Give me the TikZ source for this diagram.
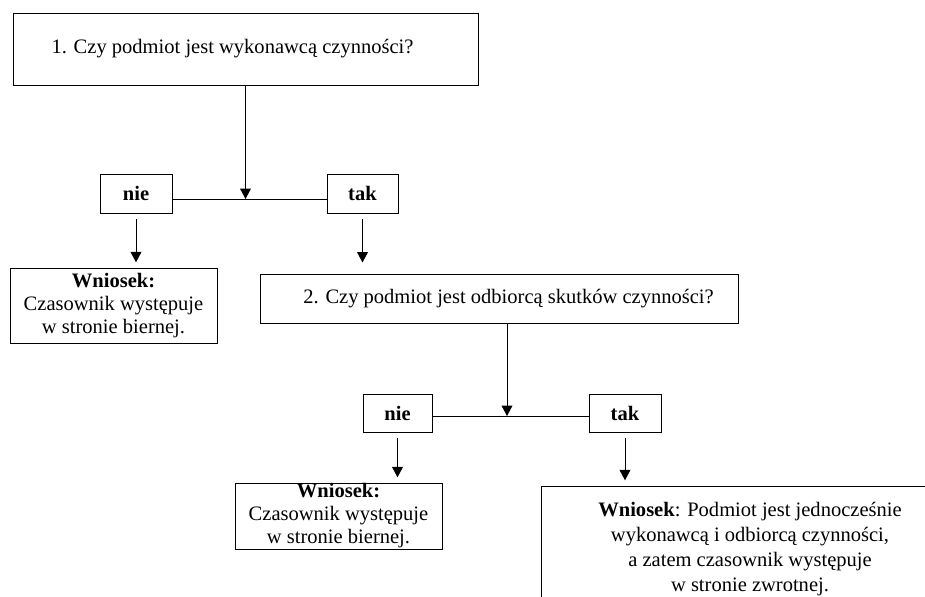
\documentclass[tikz,border=0pt]{standalone}
\usepackage{fontspec}
\setmainfont{Liberation Serif}
\usetikzlibrary{arrows.meta,positioning}
\tikzset{
  qbox/.style={
    rectangle, draw=black, line width=0.7pt, align=center,
    font=\fontsize{14.6}{16.4}\selectfont, inner sep=0pt
  },
  choicebox/.style={qbox, font=\fontsize{14.6}{16.4}\selectfont\bfseries},
  resultbox/.style={qbox},
  widebox/.style={qbox, font=\fontsize{14.6}{17.6}\selectfont},
  arrow/.style={-{Triangle[length=2.6mm,width=2.7mm]}, line width=0.7pt, draw=black},
  drop/.style={arrow, shorten <=1.5mm, shorten >=1.3mm},
  joint/.style={line width=0.7pt, draw=black}
}

\begin{document}
\begin{tikzpicture}[x=0.25mm,y=-0.25mm]
  \useasboundingbox (0,0) rectangle (925,597);
  \clip (0,0) rectangle (925,597);

  % first question
  \node[qbox, minimum width=116.25mm, minimum height=18mm] (q1) at (245.5,49)
    {1. Czy podmiot jest wykonawcą czynności?\hspace*{6.5mm}};
  \node[choicebox, minimum width=18mm, minimum height=9.75mm] (nie1) at (136,193.5) {nie};
  \node[choicebox, minimum width=17.75mm, minimum height=9.75mm] (tak1) at (362.5,193.5) {tak};
  \coordinate (j1) at (245.5,199);
  \node[resultbox, minimum width=51.75mm, minimum height=18.75mm] (w1) at (113.5,305.5)
    {\textbf{Wniosek:}\\Czasownik występuje\\w stronie biernej.};

  % second question
  \node[qbox, minimum width=119.5mm, minimum height=12.25mm] (q2) at (499,298.5)
    {\hspace*{4.75mm}2. Czy podmiot jest odbiorcą skutków czynności?};
  \node[choicebox, minimum width=17.25mm, minimum height=9.5mm] (nie2) at (397.5,413) {nie};
  \node[choicebox, minimum width=18mm, minimum height=9.5mm] (tak2) at (625,413) {tak};
  \coordinate (j2) at (507,416);
  \node[resultbox, minimum width=51.75mm, minimum height=16.5mm] (w2) at (338.5,516)
    {\textbf{Wniosek:}\\Czasownik występuje\\w stronie biernej.};
  \node[widebox, minimum width=104.5mm, minimum height=31.5mm] (w3) at (750,549)
    {\textbf{Wniosek}: Podmiot jest jednocześnie\\wykonawcą i odbiorcą czynności,\\
     a zatem czasownik występuje\\w stronie zwrotnej.};

  \draw[arrow] (q1.south) -- (j1);
  \draw[joint] (nie1.east |- j1) -- (tak1.west |- j1);
  \draw[drop] (nie1.south) -- (nie1.south |- w1.north);
  \draw[drop, shorten >=2.75mm] (tak1.south) -- (tak1.south |- q2.north);

  \draw[arrow] (j2 |- q2.south) -- (j2);
  \draw[joint] (nie2.east |- j2) -- (tak2.west |- j2);
  \draw[drop] (nie2.south) -- (nie2.south |- w2.north);
  \draw[drop] (tak2.south) -- (tak2.south |- w3.north);
\end{tikzpicture}
\end{document}
